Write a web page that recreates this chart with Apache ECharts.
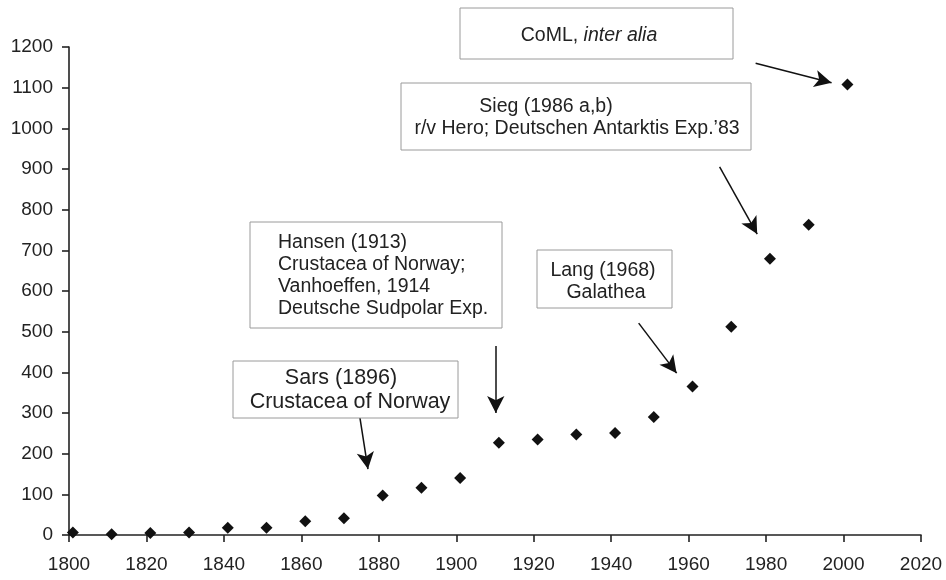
<!DOCTYPE html>
<html>
<head>
<meta charset="utf-8">
<style>
  html, body { margin: 0; padding: 0; background: #fff; }
  #chart-container { width: 946px; height: 580px; }
</style>
<script src="https://cdn.jsdelivr.net/npm/echarts@6/dist/echarts.min.js"></script>
</head>
<body>
<div id="chart-container"></div>
<script>
var years = [1801, 1811, 1821, 1831, 1841, 1851, 1861, 1871, 1881, 1891, 1901,
  1911, 1921, 1931, 1941, 1951, 1961, 1971, 1981, 1991, 2001];
var counts = [6, 2, 5, 6, 18, 18, 34, 41, 97, 116, 140,
  227, 235, 247, 251, 290, 365, 512, 679, 763, 1108];

// arrows: [fromYear, fromValue, toYear, toValue]
var arrows = [
  [1977.3, 1160, 1996.9, 1112],
  [1968.0, 905, 1977.7, 740],
  [1910.2, 465, 1910.2, 300],
  [1874.6, 320, 1877.2, 162],
  [1947.1, 521, 1956.9, 398]
];

var dom = document.getElementById("chart-container");
var myChart = echarts.init(dom, null, { renderer: "canvas" });

var font = '"Liberation Sans", Arial, sans-serif';
var textColor = "#222";
var boxStroke = "#9a9a9a";
var noteFont = "19.5px " + font;

function box(x, y, w, h) {
  return {
    type: "rect",
    shape: { x: x, y: y, width: w, height: h },
    style: { fill: "#fff", stroke: boxStroke, lineWidth: 1 },
    z: 10
  };
}
function label(x, y, txt, align, size) {
  return {
    type: "text",
    x: x,
    y: y,
    style: {
      text: txt,
      fill: textColor,
      font: size ? size + "px " + font : noteFont,
      align: align || "center",
      verticalAlign: "middle"
    },
    z: 11
  };
}

var option = {
  animation: false,
  grid: { left: 69, right: 25, top: 47, bottom: 45 },
  xAxis: {
    type: "value",
    min: 1800,
    max: 2020,
    interval: 20,
    axisLine: { onZero: false, lineStyle: { color: "#222", width: 1.6 } },
    axisTick: { show: true, length: 7, lineStyle: { color: "#222", width: 1.6 } },
    axisLabel: {
      color: "#222", fontSize: 19, fontFamily: font, margin: 20,
      formatter: function (v) { return String(v); }
    },
    splitLine: { show: false }
  },
  yAxis: {
    type: "value",
    min: 0,
    max: 1200,
    interval: 100,
    axisLine: { show: true, lineStyle: { color: "#222", width: 1.6 } },
    axisTick: { show: true, length: 7, lineStyle: { color: "#222", width: 1.6 } },
    axisLabel: {
      color: "#222", fontSize: 19, fontFamily: font, margin: 16,
      formatter: function (v) { return String(v); }
    },
    splitLine: { show: false }
  },
  series: [
    {
      type: "scatter",
      symbol: "diamond",
      symbolSize: 12,
      itemStyle: { color: "#111", opacity: 1 },
      data: years.map(function (y, i) { return [y, counts[i]]; }),
      markLine: {
        silent: true,
        symbol: ["none", "arrow"],
        symbolSize: [13, 17],
        label: { show: false },
        lineStyle: { color: "#111", width: 1.5, type: "solid", opacity: 1 },
        data: arrows.map(function (a) {
          return [{ coord: [a[0], a[1]] }, { coord: [a[2], a[3]] }];
        })
      }
    }
  ],
  graphic: [
    box(460, 8, 273, 51),
    {
      type: "text",
      x: 589,
      y: 36,
      style: {
        text: "{n|CoML, }{i|inter alia}",
        align: "center",
        verticalAlign: "middle",
        rich: {
          n: { fill: textColor, font: noteFont },
          i: { fill: textColor, font: "italic " + noteFont }
        }
      },
      z: 11
    },
    box(401, 83, 350, 67),
    label(546, 107, "Sieg (1986 a,b)"),
    label(577, 129, "r/v Hero; Deutschen Antarktis Exp.\u201983"),
    box(250, 222, 252, 106),
    label(278, 243, "Hansen (1913)", "left"),
    label(278, 265, "Crustacea of Norway;", "left"),
    label(278, 287, "Vanhoeffen, 1914", "left"),
    label(278, 309, "Deutsche Sudpolar Exp.", "left"),
    box(233, 361, 225, 57),
    label(341, 378, "Sars (1896)", "center", 21.5),
    label(350, 402, "Crustacea of Norway", "center", 21.5),
    box(537, 250, 135, 58),
    label(603, 271, "Lang (1968)"),
    label(606, 293, "Galathea")
  ]
};

myChart.setOption(option);
window.addEventListener("resize", myChart.resize);
</script>
</body>
</html>
